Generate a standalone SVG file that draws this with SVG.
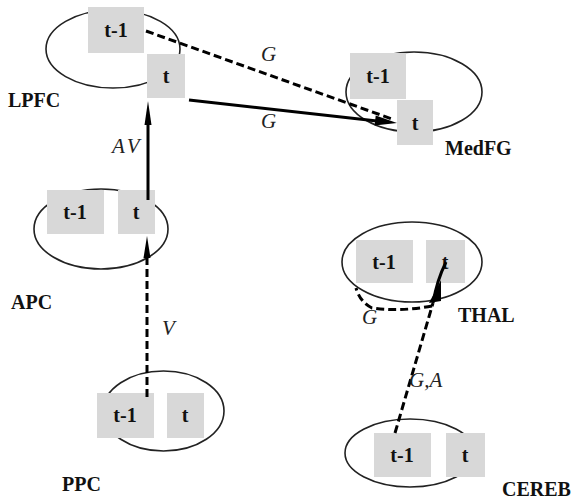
<svg xmlns="http://www.w3.org/2000/svg" width="573" height="501" viewBox="0 0 573 501">
<style>
.ell{fill:none;stroke:#222;stroke-width:1.6}
.box{fill:#d8d8d8}
.bt{font-family:"Liberation Serif",serif;font-weight:bold;font-size:20px;fill:#111;text-anchor:middle}
.lab{font-family:"Liberation Serif",serif;font-weight:bold;font-size:20px;fill:#111}
.it{font-family:"Liberation Serif",serif;font-style:italic;font-size:21px;fill:#222}
.sol{fill:none;stroke:#000;stroke-width:3}
.dash{fill:none;stroke:#000;stroke-width:3;stroke-dasharray:8 4}
.head{fill:#000}
</style>
<rect width="573" height="501" fill="#fff"/>
<g id="LPFC">
<ellipse class="ell" cx="113" cy="49" rx="67" ry="39"/>
<rect class="box" x="88" y="7" width="56" height="46"/>
<rect class="box" x="147" y="54" width="38" height="44"/>
<text class="bt" x="116" y="37">t-1</text>
<text class="bt" x="166" y="83">t</text>
<text class="lab" x="8" y="107">LPFC</text>
</g>
<g id="MedFG">
<ellipse class="ell" cx="414" cy="92" rx="68" ry="40"/>
<rect class="box" x="350" y="53" width="56" height="46"/>
<rect class="box" x="397" y="100" width="36" height="45"/>
<text class="bt" x="378" y="83">t-1</text>
<text class="bt" x="415" y="130">t</text>
<text class="lab" x="445" y="155">MedFG</text>
</g>
<g id="APC">
<ellipse class="ell" cx="101" cy="229" rx="67" ry="40"/>
<rect class="box" x="47" y="190" width="57" height="44"/>
<rect class="box" x="118" y="190" width="37" height="44"/>
<text class="bt" x="75" y="219">t-1</text>
<text class="bt" x="136" y="219">t</text>
<text class="lab" x="11" y="309">APC</text>
</g>
<g id="PPC">
<ellipse class="ell" cx="163.5" cy="411" rx="60.5" ry="40"/>
<rect class="box" x="97" y="393" width="57" height="45"/>
<rect class="box" x="167" y="393" width="37" height="45"/>
<text class="bt" x="125" y="422">t-1</text>
<text class="bt" x="185" y="422">t</text>
<text class="lab" x="62" y="491">PPC</text>
</g>
<g id="THAL">
<ellipse class="ell" cx="412" cy="262" rx="70" ry="40"/>
<rect class="box" x="356" y="240" width="57" height="43"/>
<rect class="box" x="426" y="240" width="39" height="43"/>
<text class="bt" x="384" y="269">t-1</text>
<text class="bt" x="445" y="269">t</text>
<text class="lab" x="458" y="322">THAL</text>
</g>
<g id="CEREB">
<ellipse class="ell" cx="410" cy="453" rx="65" ry="34"/>
<rect class="box" x="374" y="433" width="57" height="44"/>
<rect class="box" x="446" y="433" width="39" height="44"/>
<text class="bt" x="402" y="462">t-1</text>
<text class="bt" x="465" y="462">t</text>
<text class="lab" x="502" y="496">CEREB</text>
</g>
<g id="connectors">
<line class="dash" x1="146" y1="31" x2="392" y2="119"/>
<line class="sol" x1="189" y1="100" x2="377" y2="121"/>
<polygon class="head" points="397,123 375.7,115.6 374.6,125.6"/>
<line class="sol" x1="148" y1="200" x2="148" y2="122"/>
<polygon class="head" points="148,101 144.5,125 151.5,125"/>
<line class="dash" x1="147" y1="397" x2="147" y2="256"/>
<polygon class="head" points="147,236 143.5,258 150.5,258"/>
<line class="dash" x1="395" y1="433" x2="433" y2="303"/>
<path class="sol" d="M433,303 Q437,280 446,262" stroke-width="2"/>
<polygon class="head" points="429,303 441,301 441,280"/>
<path class="dash" d="M432,306 Q400,312 372,308 Q360,302 356,288"/>
<text class="it" x="261" y="61">G</text>
<text class="it" x="261" y="128">G</text>
<text class="it" x="112" y="153" letter-spacing="3">AV</text>
<text class="it" x="162" y="335">V</text>
<text class="it" x="362" y="324">G</text>
<text class="it" x="409" y="387">G,A</text>
</g>
</svg>
